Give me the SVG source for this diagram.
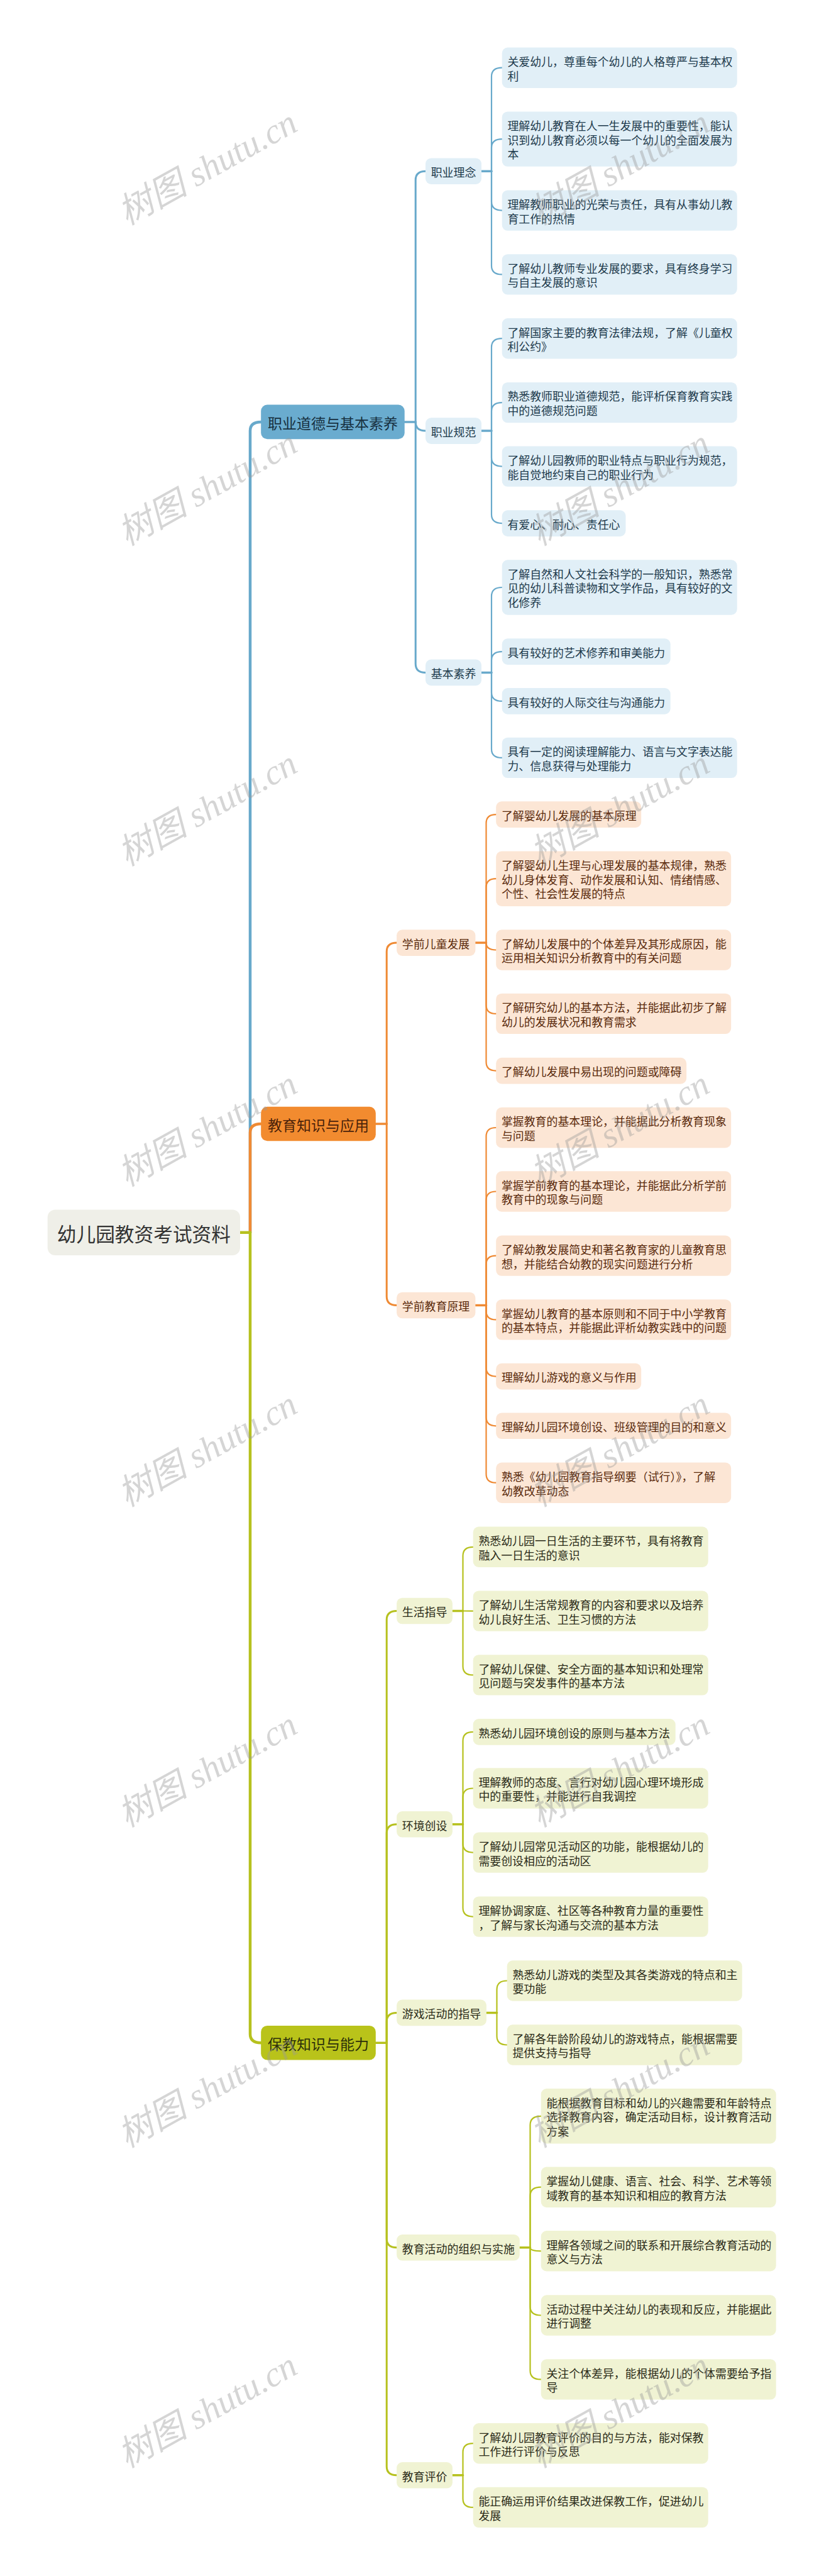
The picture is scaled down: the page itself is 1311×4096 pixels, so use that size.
<svg xmlns="http://www.w3.org/2000/svg" width="1311" height="4096" viewBox="0 0 1311 4096">
<style>
text{font-family:"Noto Sans CJK SC","Noto Sans",sans-serif;dominant-baseline:central}
.t3{font-size:17.92px}
.b rect{fill:#e1eff7}.b text{fill:#1d3a4c}
.o rect{fill:#fce6d5}.o text{fill:#5a2a0c}
.g rect{fill:#f0f3d3}.g text{fill:#2b2b18}
.l1 text{font-size:23px;text-anchor:middle}
.l1.b rect{fill:#6aaccf}.l1.b text{fill:#173040}
.l1.o rect{fill:#f28b2f}.l1.o text{fill:#4a220a}
.l1.g rect{fill:#b9c31a}.l1.g text{fill:#2c300a}
#conn path{fill:none;stroke-linecap:round}
.cb{stroke:#68a9cb}.co{stroke:#ef8a34}.cg{stroke:#b6c11e}
.w1{stroke-width:4.5}.w2{stroke-width:3}.w3{stroke-width:2.2}.st{stroke-width:3.5}
.wm{font-family:"Liberation Serif","Noto Sans CJK SC",serif;font-style:italic;font-size:56px;fill:#999;opacity:0.4;text-anchor:middle}
</style>
<rect width="1311" height="4096" fill="#fff"/>
<g id="conn">
<path class="cb w1" d="M398 1959.8 L398 684.9 Q398 670.9 415.2 670.9"/>
<path class="co w1" d="M398 1959.8 L398 1801 Q398 1787 415.2 1787"/>
<path class="cg w1" d="M398 1959.8 L398 3234.2 Q398 3248.2 415.2 3248.2"/>
<path class="cg w1" d="M382 1959.8 L398 1959.8"/>
<path class="cb st" d="M643.7 670.9 L661.2 670.9"/>
<path class="cb w2" d="M661.2 670.9 L661.2 286.2 Q661.2 272.2 677 272.2"/>
<path class="cb w2" d="M661.2 670.9 L661.2 671.1 Q661.2 685.1 677 685.1"/>
<path class="cb w2" d="M661.2 670.9 L661.2 1055.4 Q661.2 1069.4 677 1069.4"/>
<path class="cb st" d="M766 272.2 L782 272.2"/>
<path class="cb w3" d="M782 272.2 L782 121.7 Q782 107.7 798.7 107.7"/>
<path class="cb w3" d="M782 272.2 L782 235.1 Q782 221.1 798.7 221.1"/>
<path class="cb w3" d="M782 272.2 L782 320.6 Q782 334.6 798.7 334.6"/>
<path class="cb w3" d="M782 272.2 L782 422.4 Q782 436.4 798.7 436.4"/>
<path class="cb st" d="M766 685.1 L782 685.1"/>
<path class="cb w3" d="M782 685.1 L782 552.2 Q782 538.2 798.7 538.2"/>
<path class="cb w3" d="M782 685.1 L782 654.1 Q782 640.1 798.7 640.1"/>
<path class="cb w3" d="M782 685.1 L782 727.6 Q782 741.6 798.7 741.6"/>
<path class="cb w3" d="M782 685.1 L782 818.1 Q782 832.1 798.7 832.1"/>
<path class="cb st" d="M766 1069.4 L782 1069.4"/>
<path class="cb w3" d="M782 1069.4 L782 948 Q782 934 798.7 934"/>
<path class="cb w3" d="M782 1069.4 L782 1050.1 Q782 1036.1 798.7 1036.1"/>
<path class="cb w3" d="M782 1069.4 L782 1100.9 Q782 1114.9 798.7 1114.9"/>
<path class="cb w3" d="M782 1069.4 L782 1190.9 Q782 1204.9 798.7 1204.9"/>
<path class="co st" d="M597.8 1787 L615.2 1787"/>
<path class="co w2" d="M615.2 1787 L615.2 1513.1 Q615.2 1499.1 631.1 1499.1"/>
<path class="co w2" d="M615.2 1787 L615.2 2061.5 Q615.2 2075.5 631.1 2075.5"/>
<path class="co st" d="M756.4 1499.1 L773.5 1499.1"/>
<path class="co w3" d="M773.5 1499.1 L773.5 1309.1 Q773.5 1295.1 789.2 1295.1"/>
<path class="co w3" d="M773.5 1499.1 L773.5 1411.2 Q773.5 1397.2 789.2 1397.2"/>
<path class="co w3" d="M773.5 1499.1 Q773.5 1510.5 789.2 1510.5"/>
<path class="co w3" d="M773.5 1499.1 L773.5 1597.9 Q773.5 1611.9 789.2 1611.9"/>
<path class="co w3" d="M773.5 1499.1 L773.5 1688.6 Q773.5 1702.6 789.2 1702.6"/>
<path class="co st" d="M756.4 2075.5 L773.5 2075.5"/>
<path class="co w3" d="M773.5 2075.5 L773.5 1807 Q773.5 1793 789.2 1793"/>
<path class="co w3" d="M773.5 2075.5 L773.5 1908.5 Q773.5 1894.5 789.2 1894.5"/>
<path class="co w3" d="M773.5 2075.5 L773.5 2010.6 Q773.5 1996.6 789.2 1996.6"/>
<path class="co w3" d="M773.5 2075.5 L773.5 2084.4 Q773.5 2098.4 789.2 2098.4"/>
<path class="co w3" d="M773.5 2075.5 L773.5 2174.6 Q773.5 2188.6 789.2 2188.6"/>
<path class="co w3" d="M773.5 2075.5 L773.5 2253.3 Q773.5 2267.3 789.2 2267.3"/>
<path class="co w3" d="M773.5 2075.5 L773.5 2343.7 Q773.5 2357.7 789.2 2357.7"/>
<path class="cg st" d="M597.8 3248.2 L615.2 3248.2"/>
<path class="cg w2" d="M615.2 3248.2 L615.2 2575.5 Q615.2 2561.5 631.1 2561.5"/>
<path class="cg w2" d="M615.2 3248.2 L615.2 2914.8 Q615.2 2900.8 631.1 2900.8"/>
<path class="cg w2" d="M615.2 3248.2 L615.2 3214.4 Q615.2 3200.4 631.1 3200.4"/>
<path class="cg w2" d="M615.2 3248.2 L615.2 3559.8 Q615.2 3573.8 631.1 3573.8"/>
<path class="cg w2" d="M615.2 3248.2 L615.2 3921.8 Q615.2 3935.8 631.1 3935.8"/>
<path class="cg st" d="M719.9 2561.5 L736.5 2561.5"/>
<path class="cg w3" d="M736.5 2561.5 L736.5 2473.8 Q736.5 2459.8 752.7 2459.8"/>
<path class="cg w3" d="M736.5 2561.5 L752.7 2561.6"/>
<path class="cg w3" d="M736.5 2561.5 L736.5 2649.4 Q736.5 2663.4 752.7 2663.4"/>
<path class="cg st" d="M719.9 2900.8 L736.5 2900.8"/>
<path class="cg w3" d="M736.5 2900.8 L736.5 2767.9 Q736.5 2753.9 752.7 2753.9"/>
<path class="cg w3" d="M736.5 2900.8 L736.5 2857.5 Q736.5 2843.5 752.7 2843.5"/>
<path class="cg w3" d="M736.5 2900.8 L736.5 2931.6 Q736.5 2945.6 752.7 2945.6"/>
<path class="cg w3" d="M736.5 2900.8 L736.5 3033.6 Q736.5 3047.6 752.7 3047.6"/>
<path class="cg st" d="M773.9 3200.4 L790.5 3200.4"/>
<path class="cg w3" d="M790.5 3200.4 L790.5 3163.5 Q790.5 3149.5 806.7 3149.5"/>
<path class="cg w3" d="M790.5 3200.4 L790.5 3237.5 Q790.5 3251.5 806.7 3251.5"/>
<path class="cg st" d="M826.8 3573.8 L843.5 3573.8"/>
<path class="cg w3" d="M843.5 3573.8 L843.5 3378.8 Q843.5 3364.8 860.7 3364.8"/>
<path class="cg w3" d="M843.5 3573.8 L843.5 3491.7 Q843.5 3477.7 860.7 3477.7"/>
<path class="cg w3" d="M843.5 3573.8 Q843.5 3579.3 860.7 3579.3"/>
<path class="cg w3" d="M843.5 3573.8 L843.5 3667.5 Q843.5 3681.5 860.7 3681.5"/>
<path class="cg w3" d="M843.5 3573.8 L843.5 3769.4 Q843.5 3783.4 860.7 3783.4"/>
<path class="cg st" d="M719.9 3935.8 L736.5 3935.8"/>
<path class="cg w3" d="M736.5 3935.8 L736.5 3899.2 Q736.5 3885.2 752.7 3885.2"/>
<path class="cg w3" d="M736.5 3935.8 L736.5 3972.9 Q736.5 3986.9 752.7 3986.9"/>
</g>
<g id="root"><rect x="75.7" y="1923.6" width="306.3" height="72.3" rx="12" fill="#efefe8"/><text x="228.9" y="1960.5" font-size="30.7" text-anchor="middle" fill="#333">幼儿园教资考试资料</text></g>
<g id="m1" class="l1 b"><rect x="415.2" y="643.6" width="228.5" height="54.6" rx="10"/><text x="529.5" y="671.6">职业道德与基本素养</text></g>
<g id="m2" class="l1 o"><rect x="415.2" y="1759.7" width="182.6" height="54.6" rx="10"/><text x="506.5" y="1787.7">教育知识与应用</text></g>
<g id="m3" class="l1 g"><rect x="415.2" y="3220.9" width="182.6" height="54.6" rx="10"/><text x="506.5" y="3248.9">保教知识与能力</text></g>
<g id="s1" class="b t3"><rect x="677" y="251.4" width="89" height="41.6" rx="9"/><text x="685.7" y="272.9">职业理念</text></g>
<g id="s2" class="b t3"><rect x="677" y="664.3" width="89" height="41.6" rx="9"/><text x="685.7" y="685.8">职业规范</text></g>
<g id="s3" class="b t3"><rect x="677" y="1048.6" width="89" height="41.6" rx="9"/><text x="685.7" y="1070.1">基本素养</text></g>
<g id="s4" class="o t3"><rect x="631.1" y="1478.3" width="125.3" height="41.6" rx="9"/><text x="639.8" y="1499.8">学前儿童发展</text></g>
<g id="s5" class="o t3"><rect x="631.1" y="2054.7" width="125.3" height="41.6" rx="9"/><text x="639.8" y="2076.2">学前教育原理</text></g>
<g id="s6" class="g t3"><rect x="631.1" y="2540.7" width="88.8" height="41.6" rx="9"/><text x="639.8" y="2562.2">生活指导</text></g>
<g id="s7" class="g t3"><rect x="631.1" y="2880" width="88.8" height="41.6" rx="9"/><text x="639.8" y="2901.5">环境创设</text></g>
<g id="s8" class="g t3"><rect x="631.1" y="3179.6" width="142.8" height="41.6" rx="9"/><text x="639.8" y="3201.1">游戏活动的指导</text></g>
<g id="s9" class="g t3"><rect x="631.1" y="3553" width="195.7" height="41.6" rx="9"/><text x="639.8" y="3574.5">教育活动的组织与实施</text></g>
<g id="s10" class="g t3"><rect x="631.1" y="3915" width="88.8" height="41.6" rx="9"/><text x="639.8" y="3936.5">教育评价</text></g>
<g id="n1" class="b t3"><rect x="798.7" y="75.5" width="374" height="64.4" rx="9"/><text><tspan x="807.4" y="97">关爱幼儿，尊重每个幼儿的人格尊严与基本权</tspan><tspan x="807.4" y="119.6">利</tspan></text></g>
<g id="n2" class="b t3"><rect x="798.7" y="177.4" width="374" height="87.4" rx="9"/><text><tspan x="807.4" y="198.9">理解幼儿教育在人一生发展中的重要性，能认</tspan><tspan x="807.4" y="221.5">识到幼儿教育必须以每一个幼儿的全面发展为</tspan><tspan x="807.4" y="244.1">本</tspan></text></g>
<g id="n3" class="b t3"><rect x="798.7" y="302.4" width="374" height="64.4" rx="9"/><text><tspan x="807.4" y="323.9">理解教师职业的光荣与责任，具有从事幼儿教</tspan><tspan x="807.4" y="346.5">育工作的热情</tspan></text></g>
<g id="n4" class="b t3"><rect x="798.7" y="404.2" width="374" height="64.4" rx="9"/><text><tspan x="807.4" y="425.7">了解幼儿教师专业发展的要求，具有终身学习</tspan><tspan x="807.4" y="448.3">与自主发展的意识</tspan></text></g>
<g id="n5" class="b t3"><rect x="798.7" y="506" width="374" height="64.4" rx="9"/><text><tspan x="807.4" y="527.5">了解国家主要的教育法律法规，了解《儿童权</tspan><tspan x="807.4" y="550.1">利公约》</tspan></text></g>
<g id="n6" class="b t3"><rect x="798.7" y="607.9" width="374" height="64.4" rx="9"/><text><tspan x="807.4" y="629.4">熟悉教师职业道德规范，能评析保育教育实践</tspan><tspan x="807.4" y="652">中的道德规范问题</tspan></text></g>
<g id="n7" class="b t3"><rect x="798.7" y="709.4" width="374" height="64.4" rx="9"/><text><tspan x="807.4" y="730.9">了解幼儿园教师的职业特点与职业行为规范，</tspan><tspan x="807.4" y="753.5">能自觉地约束自己的职业行为</tspan></text></g>
<g id="n8" class="b t3"><rect x="798.7" y="811.3" width="196.8" height="41.6" rx="9"/><text x="807.4" y="832.8">有爱心、耐心、责任心</text></g>
<g id="n9" class="b t3"><rect x="798.7" y="890.3" width="374" height="87.4" rx="9"/><text><tspan x="807.4" y="911.8">了解自然和人文社会科学的一般知识，熟悉常</tspan><tspan x="807.4" y="934.4">见的幼儿科普读物和文学作品，具有较好的文</tspan><tspan x="807.4" y="957">化修养</tspan></text></g>
<g id="n10" class="b t3"><rect x="798.7" y="1015.3" width="268" height="41.6" rx="9"/><text x="807.4" y="1036.8">具有较好的艺术修养和审美能力</text></g>
<g id="n11" class="b t3"><rect x="798.7" y="1094.1" width="268" height="41.6" rx="9"/><text x="807.4" y="1115.6">具有较好的人际交往与沟通能力</text></g>
<g id="n12" class="b t3"><rect x="798.7" y="1172.7" width="374" height="64.4" rx="9"/><text><tspan x="807.4" y="1194.2">具有一定的阅读理解能力、语言与文字表达能</tspan><tspan x="807.4" y="1216.8">力、信息获得与处理能力</tspan></text></g>
<g id="n13" class="o t3"><rect x="789.2" y="1274.3" width="231" height="41.6" rx="9"/><text x="797.9" y="1295.8">了解婴幼儿发展的基本原理</text></g>
<g id="n14" class="o t3"><rect x="789.2" y="1353.5" width="374" height="87.4" rx="9"/><text><tspan x="797.9" y="1375">了解婴幼儿生理与心理发展的基本规律，熟悉</tspan><tspan x="797.9" y="1397.6">幼儿身体发育、动作发展和认知、情绪情感、</tspan><tspan x="797.9" y="1420.2">个性、社会性发展的特点</tspan></text></g>
<g id="n15" class="o t3"><rect x="789.2" y="1478.3" width="374" height="64.4" rx="9"/><text><tspan x="797.9" y="1499.8">了解幼儿发展中的个体差异及其形成原因，能</tspan><tspan x="797.9" y="1522.4">运用相关知识分析教育中的有关问题</tspan></text></g>
<g id="n16" class="o t3"><rect x="789.2" y="1579.7" width="374" height="64.4" rx="9"/><text><tspan x="797.9" y="1601.2">了解研究幼儿的基本方法，并能据此初步了解</tspan><tspan x="797.9" y="1623.8">幼儿的发展状况和教育需求</tspan></text></g>
<g id="n17" class="o t3"><rect x="789.2" y="1681.8" width="303" height="41.6" rx="9"/><text x="797.9" y="1703.3">了解幼儿发展中易出现的问题或障碍</text></g>
<g id="n18" class="o t3"><rect x="789.2" y="1760.8" width="374" height="64.4" rx="9"/><text><tspan x="797.9" y="1782.3">掌握教育的基本理论，并能据此分析教育现象</tspan><tspan x="797.9" y="1804.9">与问题</tspan></text></g>
<g id="n19" class="o t3"><rect x="789.2" y="1862.3" width="374" height="64.4" rx="9"/><text><tspan x="797.9" y="1883.8">掌握学前教育的基本理论，并能据此分析学前</tspan><tspan x="797.9" y="1906.4">教育中的现象与问题</tspan></text></g>
<g id="n20" class="o t3"><rect x="789.2" y="1964.4" width="374" height="64.4" rx="9"/><text><tspan x="797.9" y="1985.9">了解幼教发展简史和著名教育家的儿童教育思</tspan><tspan x="797.9" y="2008.5">想，并能结合幼教的现实问题进行分析</tspan></text></g>
<g id="n21" class="o t3"><rect x="789.2" y="2066.2" width="374" height="64.4" rx="9"/><text><tspan x="797.9" y="2087.7">掌握幼儿教育的基本原则和不同于中小学教育</tspan><tspan x="797.9" y="2110.3">的基本特点，并能据此评析幼教实践中的问题</tspan></text></g>
<g id="n22" class="o t3"><rect x="789.2" y="2167.8" width="231" height="41.6" rx="9"/><text x="797.9" y="2189.3">理解幼儿游戏的意义与作用</text></g>
<g id="n23" class="o t3"><rect x="789.2" y="2246.5" width="374" height="41.6" rx="9"/><text x="797.9" y="2268">理解幼儿园环境创设、班级管理的目的和意义</text></g>
<g id="n24" class="o t3"><rect x="789.2" y="2325.5" width="374" height="64.4" rx="9"/><text><tspan x="797.9" y="2347">熟悉《幼儿园教育指导纲要（试行）》，了解</tspan><tspan x="797.9" y="2369.6">幼教改革动态</tspan></text></g>
<g id="n25" class="g t3"><rect x="752.7" y="2427.6" width="374" height="64.4" rx="9"/><text><tspan x="761.4" y="2449.1">熟悉幼儿园一日生活的主要环节，具有将教育</tspan><tspan x="761.4" y="2471.7">融入一日生活的意识</tspan></text></g>
<g id="n26" class="g t3"><rect x="752.7" y="2529.4" width="374" height="64.4" rx="9"/><text><tspan x="761.4" y="2550.9">了解幼儿生活常规教育的内容和要求以及培养</tspan><tspan x="761.4" y="2573.5">幼儿良好生活、卫生习惯的方法</tspan></text></g>
<g id="n27" class="g t3"><rect x="752.7" y="2631.2" width="374" height="64.4" rx="9"/><text><tspan x="761.4" y="2652.7">了解幼儿保健、安全方面的基本知识和处理常</tspan><tspan x="761.4" y="2675.3">见问题与突发事件的基本方法</tspan></text></g>
<g id="n28" class="g t3"><rect x="752.7" y="2733.1" width="322" height="41.6" rx="9"/><text x="761.4" y="2754.6">熟悉幼儿园环境创设的原则与基本方法</text></g>
<g id="n29" class="g t3"><rect x="752.7" y="2811.3" width="374" height="64.4" rx="9"/><text><tspan x="761.4" y="2832.8">理解教师的态度、言行对幼儿园心理环境形成</tspan><tspan x="761.4" y="2855.4">中的重要性，并能进行自我调控</tspan></text></g>
<g id="n30" class="g t3"><rect x="752.7" y="2913.4" width="374" height="64.4" rx="9"/><text><tspan x="761.4" y="2934.9">了解幼儿园常见活动区的功能，能根据幼儿的</tspan><tspan x="761.4" y="2957.5">需要创设相应的活动区</tspan></text></g>
<g id="n31" class="g t3"><rect x="752.7" y="3015.4" width="374" height="64.4" rx="9"/><text><tspan x="761.4" y="3036.9">理解协调家庭、社区等各种教育力量的重要性</tspan><tspan x="761.4" y="3059.5">，了解与家长沟通与交流的基本方法</tspan></text></g>
<g id="n32" class="g t3"><rect x="806.7" y="3117.3" width="374" height="64.4" rx="9"/><text><tspan x="815.4" y="3138.8">熟悉幼儿游戏的类型及其各类游戏的特点和主</tspan><tspan x="815.4" y="3161.4">要功能</tspan></text></g>
<g id="n33" class="g t3"><rect x="806.7" y="3219.3" width="374" height="64.4" rx="9"/><text><tspan x="815.4" y="3240.8">了解各年龄阶段幼儿的游戏特点，能根据需要</tspan><tspan x="815.4" y="3263.4">提供支持与指导</tspan></text></g>
<g id="n34" class="g t3"><rect x="860.7" y="3321.1" width="374" height="87.4" rx="9"/><text><tspan x="869.4" y="3342.6">能根据教育目标和幼儿的兴趣需要和年龄特点</tspan><tspan x="869.4" y="3365.2">选择教育内容，确定活动目标，设计教育活动</tspan><tspan x="869.4" y="3387.8">方案</tspan></text></g>
<g id="n35" class="g t3"><rect x="860.7" y="3445.5" width="374" height="64.4" rx="9"/><text><tspan x="869.4" y="3467">掌握幼儿健康、语言、社会、科学、艺术等领</tspan><tspan x="869.4" y="3489.6">域教育的基本知识和相应的教育方法</tspan></text></g>
<g id="n36" class="g t3"><rect x="860.7" y="3547.1" width="374" height="64.4" rx="9"/><text><tspan x="869.4" y="3568.6">理解各领域之间的联系和开展综合教育活动的</tspan><tspan x="869.4" y="3591.2">意义与方法</tspan></text></g>
<g id="n37" class="g t3"><rect x="860.7" y="3649.3" width="374" height="64.4" rx="9"/><text><tspan x="869.4" y="3670.8">活动过程中关注幼儿的表现和反应，并能据此</tspan><tspan x="869.4" y="3693.4">进行调整</tspan></text></g>
<g id="n38" class="g t3"><rect x="860.7" y="3751.2" width="374" height="64.4" rx="9"/><text><tspan x="869.4" y="3772.7">关注个体差异，能根据幼儿的个体需要给予指</tspan><tspan x="869.4" y="3795.3">导</tspan></text></g>
<g id="n39" class="g t3"><rect x="752.7" y="3853" width="374" height="64.4" rx="9"/><text><tspan x="761.4" y="3874.5">了解幼儿园教育评价的目的与方法，能对保教</tspan><tspan x="761.4" y="3897.1">工作进行评价与反思</tspan></text></g>
<g id="n40" class="g t3"><rect x="752.7" y="3954.7" width="374" height="64.4" rx="9"/><text><tspan x="761.4" y="3976.2">能正确运用评价结果改进保教工作，促进幼儿</tspan><tspan x="761.4" y="3998.8">发展</tspan></text></g>
<g id="watermark">
<text class="wm" transform="translate(330 266) rotate(-29)">树图 shutu.cn</text>
<text class="wm" transform="translate(986 266) rotate(-29)">树图 shutu.cn</text>
<text class="wm" transform="translate(330 775.7) rotate(-29)">树图 shutu.cn</text>
<text class="wm" transform="translate(986 775.7) rotate(-29)">树图 shutu.cn</text>
<text class="wm" transform="translate(330 1285.1) rotate(-29)">树图 shutu.cn</text>
<text class="wm" transform="translate(986 1285.1) rotate(-29)">树图 shutu.cn</text>
<text class="wm" transform="translate(330 1794.6) rotate(-29)">树图 shutu.cn</text>
<text class="wm" transform="translate(986 1794.6) rotate(-29)">树图 shutu.cn</text>
<text class="wm" transform="translate(330 2304) rotate(-29)">树图 shutu.cn</text>
<text class="wm" transform="translate(986 2304) rotate(-29)">树图 shutu.cn</text>
<text class="wm" transform="translate(330 2813.4) rotate(-29)">树图 shutu.cn</text>
<text class="wm" transform="translate(986 2813.4) rotate(-29)">树图 shutu.cn</text>
<text class="wm" transform="translate(330 3322.9) rotate(-29)">树图 shutu.cn</text>
<text class="wm" transform="translate(986 3322.9) rotate(-29)">树图 shutu.cn</text>
<text class="wm" transform="translate(330 3832.3) rotate(-29)">树图 shutu.cn</text>
<text class="wm" transform="translate(986 3832.3) rotate(-29)">树图 shutu.cn</text>
</g>
</svg>
